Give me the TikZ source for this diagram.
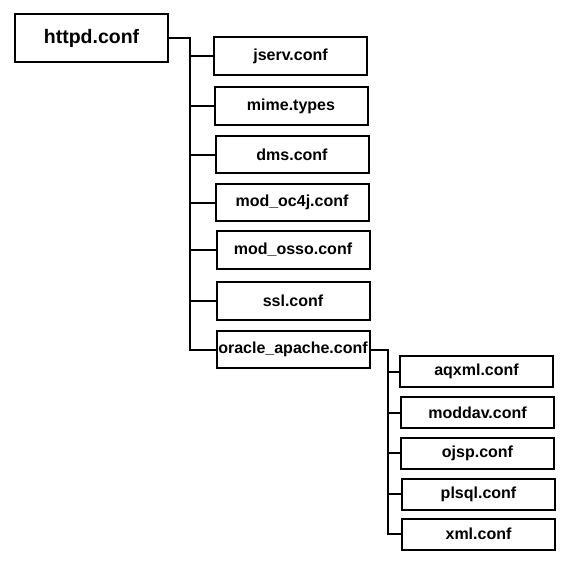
\documentclass[tikz,border=0pt]{standalone}
\usepackage{fontspec}
\setmainfont{Liberation Sans}
\usepackage{tikz}
\usetikzlibrary{positioning}

\begin{document}
\begin{tikzpicture}[x=1pt, y=-1pt, filebox/.style={rectangle, draw=black, line width=2pt, minimum width=153pt, minimum height=38pt, inner sep=0pt, font=\bfseries\fontsize{16}{19}\selectfont}]
\useasboundingbox (0,0) rectangle (584,566);

\node[filebox, minimum height=48pt, font=\bfseries\fontsize{19.5}{23}\selectfont] at (91.5, 38.0) (httpd) {httpd.conf};
\node[filebox] at (290.5, 56.0) (jserv) {jserv.conf};
\node[filebox] at (291.0, 106.0) (mime) {mime.types};
\node[filebox, minimum height=37pt] at (292.0, 154.5) (dms) {dms.conf};
\node[filebox, minimum height=37pt] at (292.0, 202.5) (oc4j) {mod\_oc4j.conf};
\node[filebox] at (293.0, 250.0) (osso) {mod\_osso.conf};
\node[filebox] at (293.0, 301.0) (ssl) {ssl.conf};
\node[filebox, minimum height=37pt] at (293.0, 349.5) (oracle) {oracle\_apache.conf};
\node[filebox, minimum height=31pt] at (476.5, 371.5) (aqxml) {aqxml.conf};
\node[filebox, minimum height=31pt] at (477.5, 412.5) (moddav) {moddav.conf};
\node[filebox, minimum height=31pt] at (477.5, 453.0) (ojsp) {ojsp.conf};
\node[filebox, minimum height=31pt] at (478.5, 494.0) (plsql) {plsql.conf};
\node[filebox, minimum height=31pt] at (478.5, 534.0) (xml) {xml.conf};

\coordinate (bus) at (190.0, 40.0);
\coordinate (subbus) at (388.0, 352.0);

\draw[line width=2pt] (httpd.east) -| (bus |- oracle.west) -- (oracle.west);
\draw[line width=2pt] (bus |- jserv.west) -- (jserv.west);
\draw[line width=2pt] (bus |- mime.west) -- (mime.west);
\draw[line width=2pt] (bus |- dms.west) -- (dms.west);
\draw[line width=2pt] (bus |- oc4j.west) -- (oc4j.west);
\draw[line width=2pt] (bus |- osso.west) -- (osso.west);
\draw[line width=2pt] (bus |- ssl.west) -- (ssl.west);
\draw[line width=2pt] (oracle.east) -| (subbus |- xml.west) -- (xml.west);
\draw[line width=2pt] (subbus |- aqxml.west) -- (aqxml.west);
\draw[line width=2pt] (subbus |- moddav.west) -- (moddav.west);
\draw[line width=2pt] (subbus |- ojsp.west) -- (ojsp.west);
\draw[line width=2pt] (subbus |- plsql.west) -- (plsql.west);

\end{tikzpicture}
\end{document}
